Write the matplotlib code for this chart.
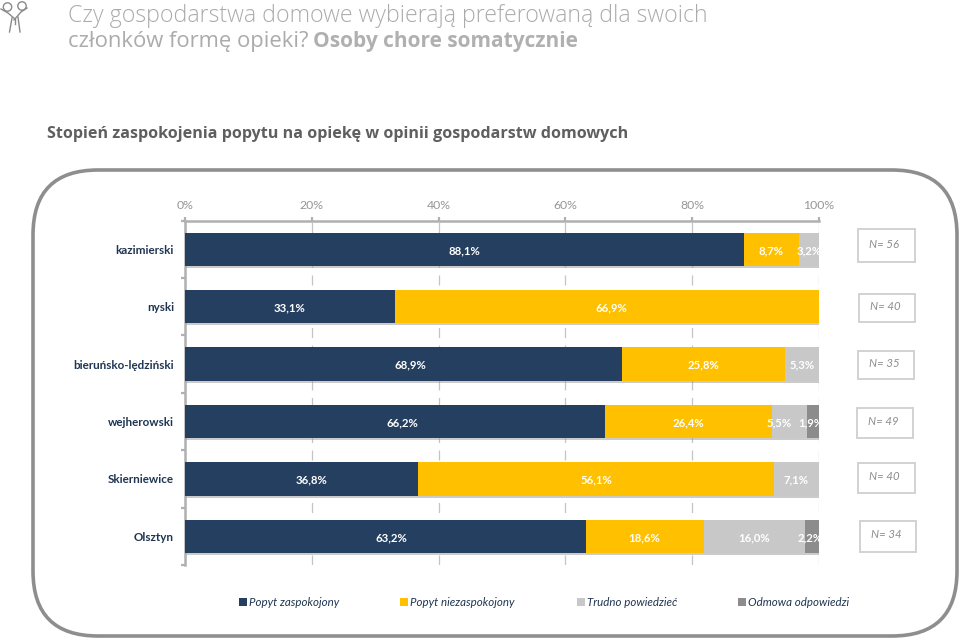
import matplotlib
matplotlib.use('Agg')
import matplotlib.pyplot as plt
import matplotlib.patheffects as pe
from matplotlib.patches import FancyBboxPatch, Rectangle, Circle
import numpy as np

regions = ['kazimierski', 'nyski', 'bieruńsko-lędziński', 'wejherowski', 'Skierniewice', 'Olsztyn']
series_names = ['Popyt zaspokojony', 'Popyt niezaspokojony', 'Trudno powiedzieć', 'Odmowa odpowiedzi']
zaspokojony = [88.1, 33.1, 68.9, 66.2, 36.8, 63.2]
niezaspokojony = [8.7, 66.9, 25.8, 26.4, 56.1, 18.6]
trudno = [3.2, 0, 5.3, 5.5, 7.1, 16.0]
odmowa = [0, 0, 0, 1.9, 0, 2.2]
n_labels = ['N= 56', 'N= 40', 'N= 35', 'N= 49', 'N= 40', 'N= 34']
x_ticks = [0, 20, 40, 60, 80, 100]

colors = ['#243F60', '#FFC000', '#C8C8C8', '#8C8C8C']
W, H = 960, 640
label_font = ['Lato', 'DejaVu Sans']
title_font = ['Open Sans', 'DejaVu Sans']

# labels that sit off the middle of their segment in the original, (row, series): shift in %
label_shift = {(1, 1): 0.7, (2, 0): 1.1, (3, 0): 1.2, (4, 0): 1.5, (5, 0): 0.9,
               (3, 2): -1.7, (3, 3): -0.3, (5, 3): -0.3}

fig = plt.figure(figsize=(9.6, 6.4), dpi=100, facecolor='white')

# overlay in pixel coordinates for frame, titles, N boxes
bg = fig.add_axes([0, 0, 1, 1], zorder=0)
bg.set_xlim(0, W)
bg.set_ylim(H, 0)
bg.axis('off')

frame = FancyBboxPatch((33 + 65, 170 + 65), 924 - 130, 466 - 130,
                       boxstyle='round,pad=65,rounding_size=65',
                       fc='white', ec='#8E8E8E', lw=2.6)
bg.add_patch(frame)

# little people icon
icon = '#8A8A8A'
bg.add_patch(Circle((7.5, 7), 4.2, fc='none', ec=icon, lw=1))
bg.add_patch(Circle((22, 6), 4.2, fc='none', ec=icon, lw=1))
bg.plot([1, 8, 15], [9, 13, 19], color=icon, lw=1)
bg.plot([27, 21, 14], [8, 12, 20], color=icon, lw=1)
bg.plot([12, 9.5], [18, 32], color=icon, lw=1)
bg.plot([18, 20], [17, 32], color=icon, lw=1)
bg.plot([15, 15], [19, 24], color=icon, lw=1)

bg.text(68, 16, 'Czy gospodarstwa domowe wybierają preferowaną dla swoich', fontsize=16.7,
        color='#ABABAB', family=title_font, va='center', ha='left', fontweight='light')
bg.text(68, 41.5, 'członków formę opieki?', fontsize=15.8, color='#ABABAB',
        family=title_font, va='center', ha='left')
bg.text(313, 41.5, 'Osoby chore somatycznie', fontsize=15, color='#B0B0B0',
        family=title_font, va='center', ha='left', fontweight='bold')
bg.text(47, 134, 'Stopień zaspokojenia popytu na opiekę w opinii gospodarstw domowych', fontsize=11.6,
        color='#5F5F5F', family=title_font, va='center', ha='left', fontweight='bold')

# N boxes
boxes = [(858, 229, 57, 33), (859, 294, 56, 28), (858, 351, 56, 28),
         (857, 408, 56, 30), (858, 463, 57, 30), (860, 521, 56, 31)]
for (bx, by, bw, bh), lab in zip(boxes, n_labels):
    bg.add_patch(Rectangle((bx, by), bw, bh, fc='white', ec='#D2D2D2', lw=1.4))
    bg.text(bx + 11, by + bh / 2 - 1.5, lab, fontsize=8.2, style='italic', color='#8C8C8C',
            family=label_font, va='center', ha='left')

# legend
leg_x = [239, 400, 577, 738]
for x0, col, name in zip(leg_x, colors, series_names):
    bg.add_patch(Rectangle((x0, 598), 8, 8, fc=col, ec='none'))
    bg.text(x0 + 10, 602.5, name, fontsize=8.3, style='italic', color='#1F3552',
            family=label_font, va='center', ha='left')

# main chart
ax = fig.add_axes([185 / W, 1 - 565 / H, (819 - 185) / W, (565 - 220.5) / H], zorder=1)
ax.patch.set_alpha(0)
y = np.arange(len(regions))
left = np.zeros(len(regions))
for s, (vals, col) in enumerate(zip([zaspokojony, niezaspokojony, trudno, odmowa], colors)):
    vals = np.array(vals)
    bars = ax.barh(y, vals, height=0.58, left=left, color=col, zorder=3)
    for r, (b, v) in enumerate(zip(bars, vals)):
        if v > 0:
            b.set_path_effects([pe.SimplePatchShadow(offset=(0.8, -1.5), shadow_rgbFace='#999999', alpha=0.5),
                                pe.Normal()])
            ax.text(b.get_x() + v / 2 + label_shift.get((r, s), 0), b.get_y() + b.get_height() / 2 + 0.02,
                    ('%.1f%%' % v).replace('.', ','), color='white', fontsize=8.2, fontweight='bold',
                    family=label_font, ha='center', va='center', zorder=5)
    left = left + vals

ax.set_xlim(0, 100)
ax.set_ylim(len(regions) - 0.5, -0.5)
ax.xaxis.tick_top()
ax.set_xticks(x_ticks)
ax.set_xticklabels(['%d%%' % v for v in x_ticks], fontsize=8.8, color='#969696', family=label_font)
ax.set_yticks(y)
ax.set_yticklabels(regions, fontsize=8.4, fontweight='bold', color='#1F3552', family=label_font)
ax.set_yticks(np.arange(len(regions) + 1) - 0.5, minor=True)
ax.tick_params(axis='y', which='major', length=0, pad=8)
ax.tick_params(axis='y', which='minor', length=3, width=1.6, color='#B0B0B0')
ax.tick_params(axis='x', length=3, width=1.6, color='#B0B0B0', pad=3.5)
ax.grid(axis='x', color='#C4C4C4', lw=0.9, linestyle=(0, (8, 6)), zorder=1)
for side in ['right', 'bottom']:
    ax.spines[side].set_visible(False)
for side in ['top', 'left']:
    ax.spines[side].set_color('#B0B0B0')
    ax.spines[side].set_linewidth(1.8)

fig.savefig('out.png', dpi=100)
